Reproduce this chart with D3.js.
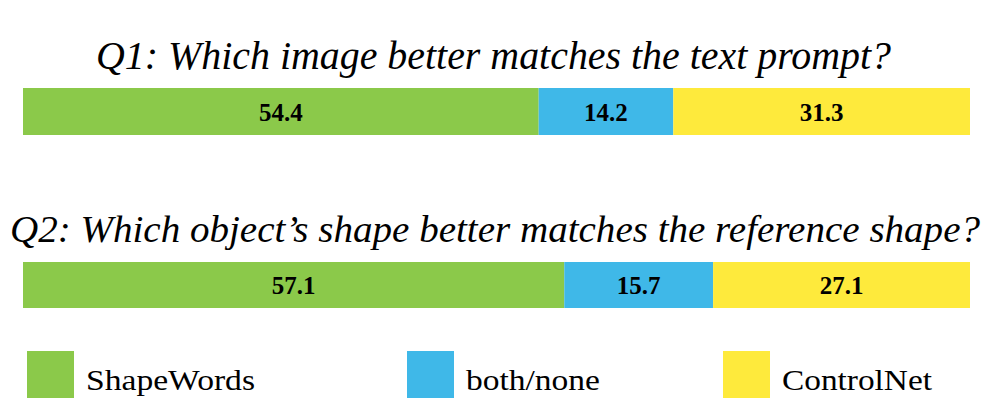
<!DOCTYPE html>
<html>
<head>
    <meta charset="utf-8">
    <title>ShapeWords user study</title>
    <style>
        html, body { margin: 0px; padding: 0px; background: #fff; }
        svg { display: block; }
        .title { font-family: 'Liberation Serif', serif; font-style: italic; fill: #000; }
        .val { font-family: 'Liberation Serif', serif; font-weight: bold; font-size: 25px; fill: #000; }
        .leg { font-family: 'Liberation Serif', serif; font-size: 30px; fill: #000; }
    </style>
    <script src="https://d3js.org/d3.v7.min.js"></script>
</head>
<body>
<script>
    var categories = ["ShapeWords", "both/none", "ControlNet"];
    var colors = ["#8bc94a", "#3fb8e8", "#feea3c"];
    var questions = ["Q1: Which image better matches the text prompt?",
                     "Q2: Which object\u2019s shape better matches the reference shape?"];
    var q1Values = [54.4, 14.2, 31.3];
    var q2Values = [57.1, 15.7, 27.1];

    var width = 996, height = 407;
    var svg = d3.select("body").append("svg")
        .attr("width", width)
        .attr("height", height);

    var x = d3.scaleLinear().domain([0, 99.9]).range([23, 970]);

    var rows = [
        { q: questions[0], vals: q1Values, top: 88, h: 47, ty: 69, tx0: 96, tx1: 891, fs: 40 },
        { q: questions[1], vals: q2Values, top: 262, h: 46, ty: 242, tx0: 10, tx1: 980, fs: 38 }
    ];

    rows.forEach(function(r) {
        var g = svg.append("g");
        var acc = 0;
        var segs = r.vals.map(function(v, i) {
            var s = { v: v, i: i, x0: acc, x1: acc + v };
            acc += v;
            return s;
        });
        // last segment stretches to the end of the bar
        segs[segs.length - 1].x1 = 99.9;

        g.selectAll("rect").data(segs).enter().append("rect")
            .attr("x", function(d) { return x(d.x0); })
            .attr("y", r.top)
            .attr("width", function(d) { return x(d.x1) - x(d.x0); })
            .attr("height", r.h)
            .attr("fill", function(d) { return colors[d.i]; });

        g.selectAll("text.val").data(segs).enter().append("text")
            .attr("class", "val")
            .attr("x", function(d) { return (x(d.x0) + x(d.x1)) / 2; })
            .attr("y", r.top + r.h / 2 + 9)
            .attr("text-anchor", "middle")
            .text(function(d) { return d.v.toFixed(1); });

        svg.append("text")
            .attr("class", "title")
            .attr("x", r.tx0)
            .attr("y", r.ty)
            .style("font-size", r.fs + "px")
            .attr("textLength", r.tx1 - r.tx0)
            .attr("lengthAdjust", "spacingAndGlyphs")
            .text(r.q);
    });

    // legend
    var legX = [27, 407, 723];
    var legW = [169, 134, 150];
    var leg = svg.selectAll("g.legend").data(categories).enter().append("g")
        .attr("class", "legend")
        .attr("transform", function(d, i) { return "translate(" + legX[i] + ",351)"; });

    leg.append("rect")
        .attr("width", 47)
        .attr("height", 47)
        .attr("fill", function(d, i) { return colors[i]; });

    leg.append("text")
        .attr("class", "leg")
        .attr("x", 59)
        .attr("y", 39)
        .attr("textLength", function(d, i) { return legW[i]; })
        .attr("lengthAdjust", "spacingAndGlyphs")
        .text(function(d) { return d; });
</script>
</body>
</html>
